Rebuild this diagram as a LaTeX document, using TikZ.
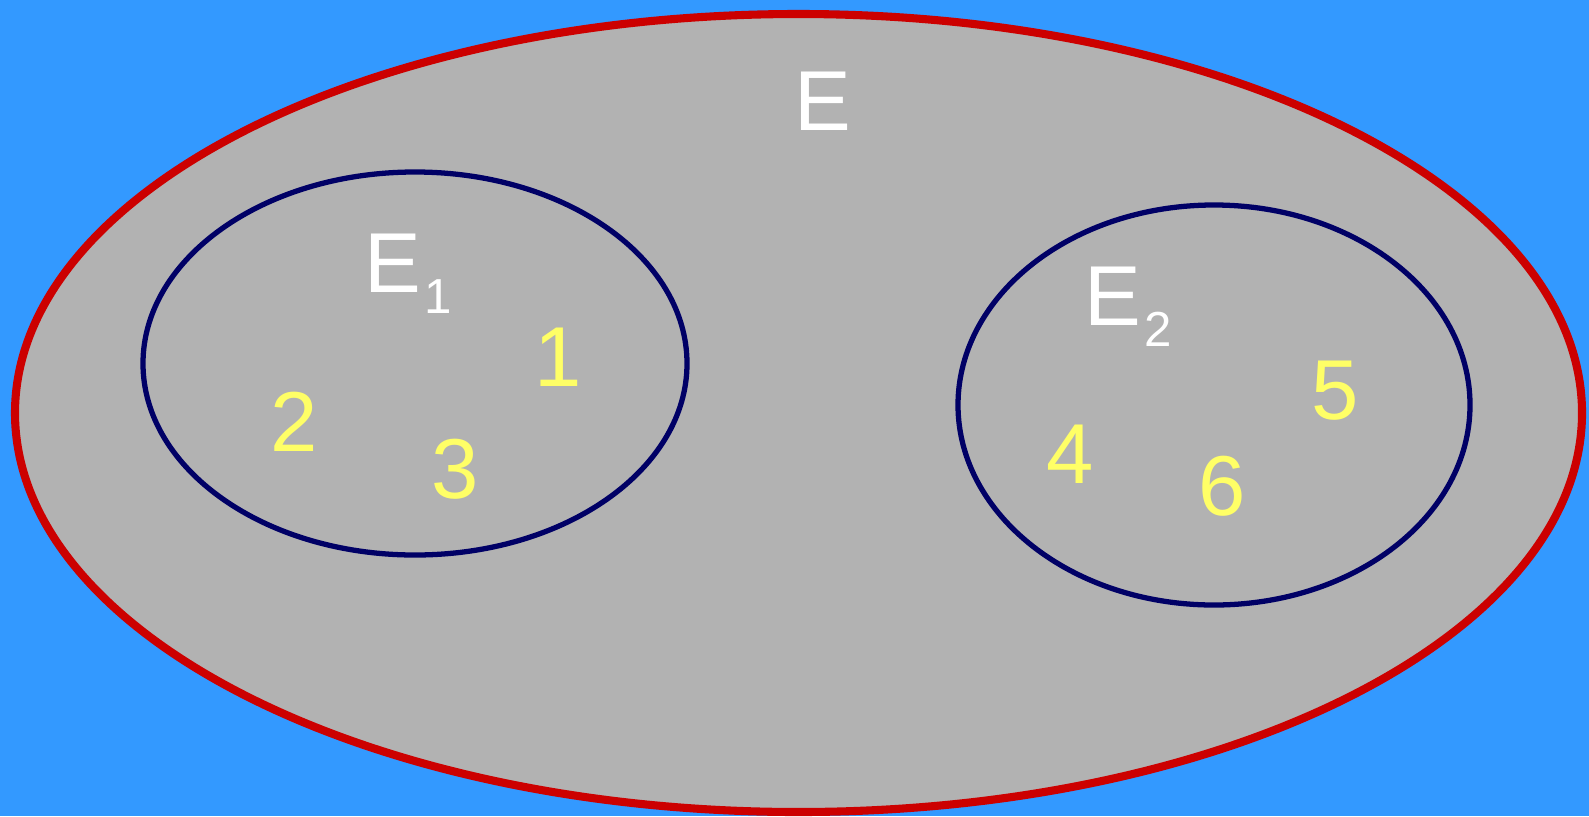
\documentclass[tikz,border=0pt]{standalone}
\usepackage{fontspec}
\setmainfont{Liberation Sans}
\usepackage{tikz}
\usetikzlibrary{shapes.geometric}

\definecolor{skyblue}{HTML}{3399FF}
\definecolor{setgray}{HTML}{B2B2B2}
\definecolor{setred}{HTML}{CC0000}
\definecolor{setnavy}{HTML}{000066}
\definecolor{elemyellow}{HTML}{FFFF66}

\newcommand{\subidx}[1]{\hspace{1pt}\raisebox{-6pt}{\fontsize{14}{14}\selectfont #1}}

\begin{document}
\begin{tikzpicture}[
   universe/.style={ellipse, draw=setred, fill=setgray, line width=2.3pt, inner sep=0pt},
   subset/.style={ellipse, draw=setnavy, line width=1.5pt, inner sep=0pt},
   setname/.style={text=white, font=\fontsize{24.2}{29}\selectfont, inner sep=0pt},
   elem/.style={text=elemyellow, font=\fontsize{24.2}{29}\selectfont, inner sep=0pt}
]
   % background
   \fill[skyblue] (0,0) rectangle (15.89,8.16);
   \useasboundingbox (0,0) rectangle (15.89,8.16);
   % sets
   \node[universe, minimum width=15.67cm, minimum height=7.98cm] (E) at (7.985,4.03) {};
   \node[subset, minimum width=5.44cm, minimum height=3.83cm] (E1) at (4.15,4.525) {};
   \node[subset, minimum width=5.12cm, minimum height=4.00cm] (E2) at (12.14,4.11) {};
   % set names
   \node[setname] (nameE) at (8.23,7.15) {E};
   \node[setname, anchor=base west] (nameE1) at (3.64,5.24) {E\subidx{1}};
   \node[setname, anchor=base west] (nameE2) at (10.84,4.91) {E\subidx{2}};
   % elements
   \node[elem] (el1) at (5.58,4.59) {1};
   \node[elem] (el2) at (2.94,3.94) {2};
   \node[elem] (el3) at (4.55,3.47) {3};
   \node[elem] (el4) at (10.70,3.62) {4};
   \node[elem] (el5) at (13.35,4.25) {5};
   \node[elem] (el6) at (12.22,3.30) {6};
\end{tikzpicture}
\end{document}
